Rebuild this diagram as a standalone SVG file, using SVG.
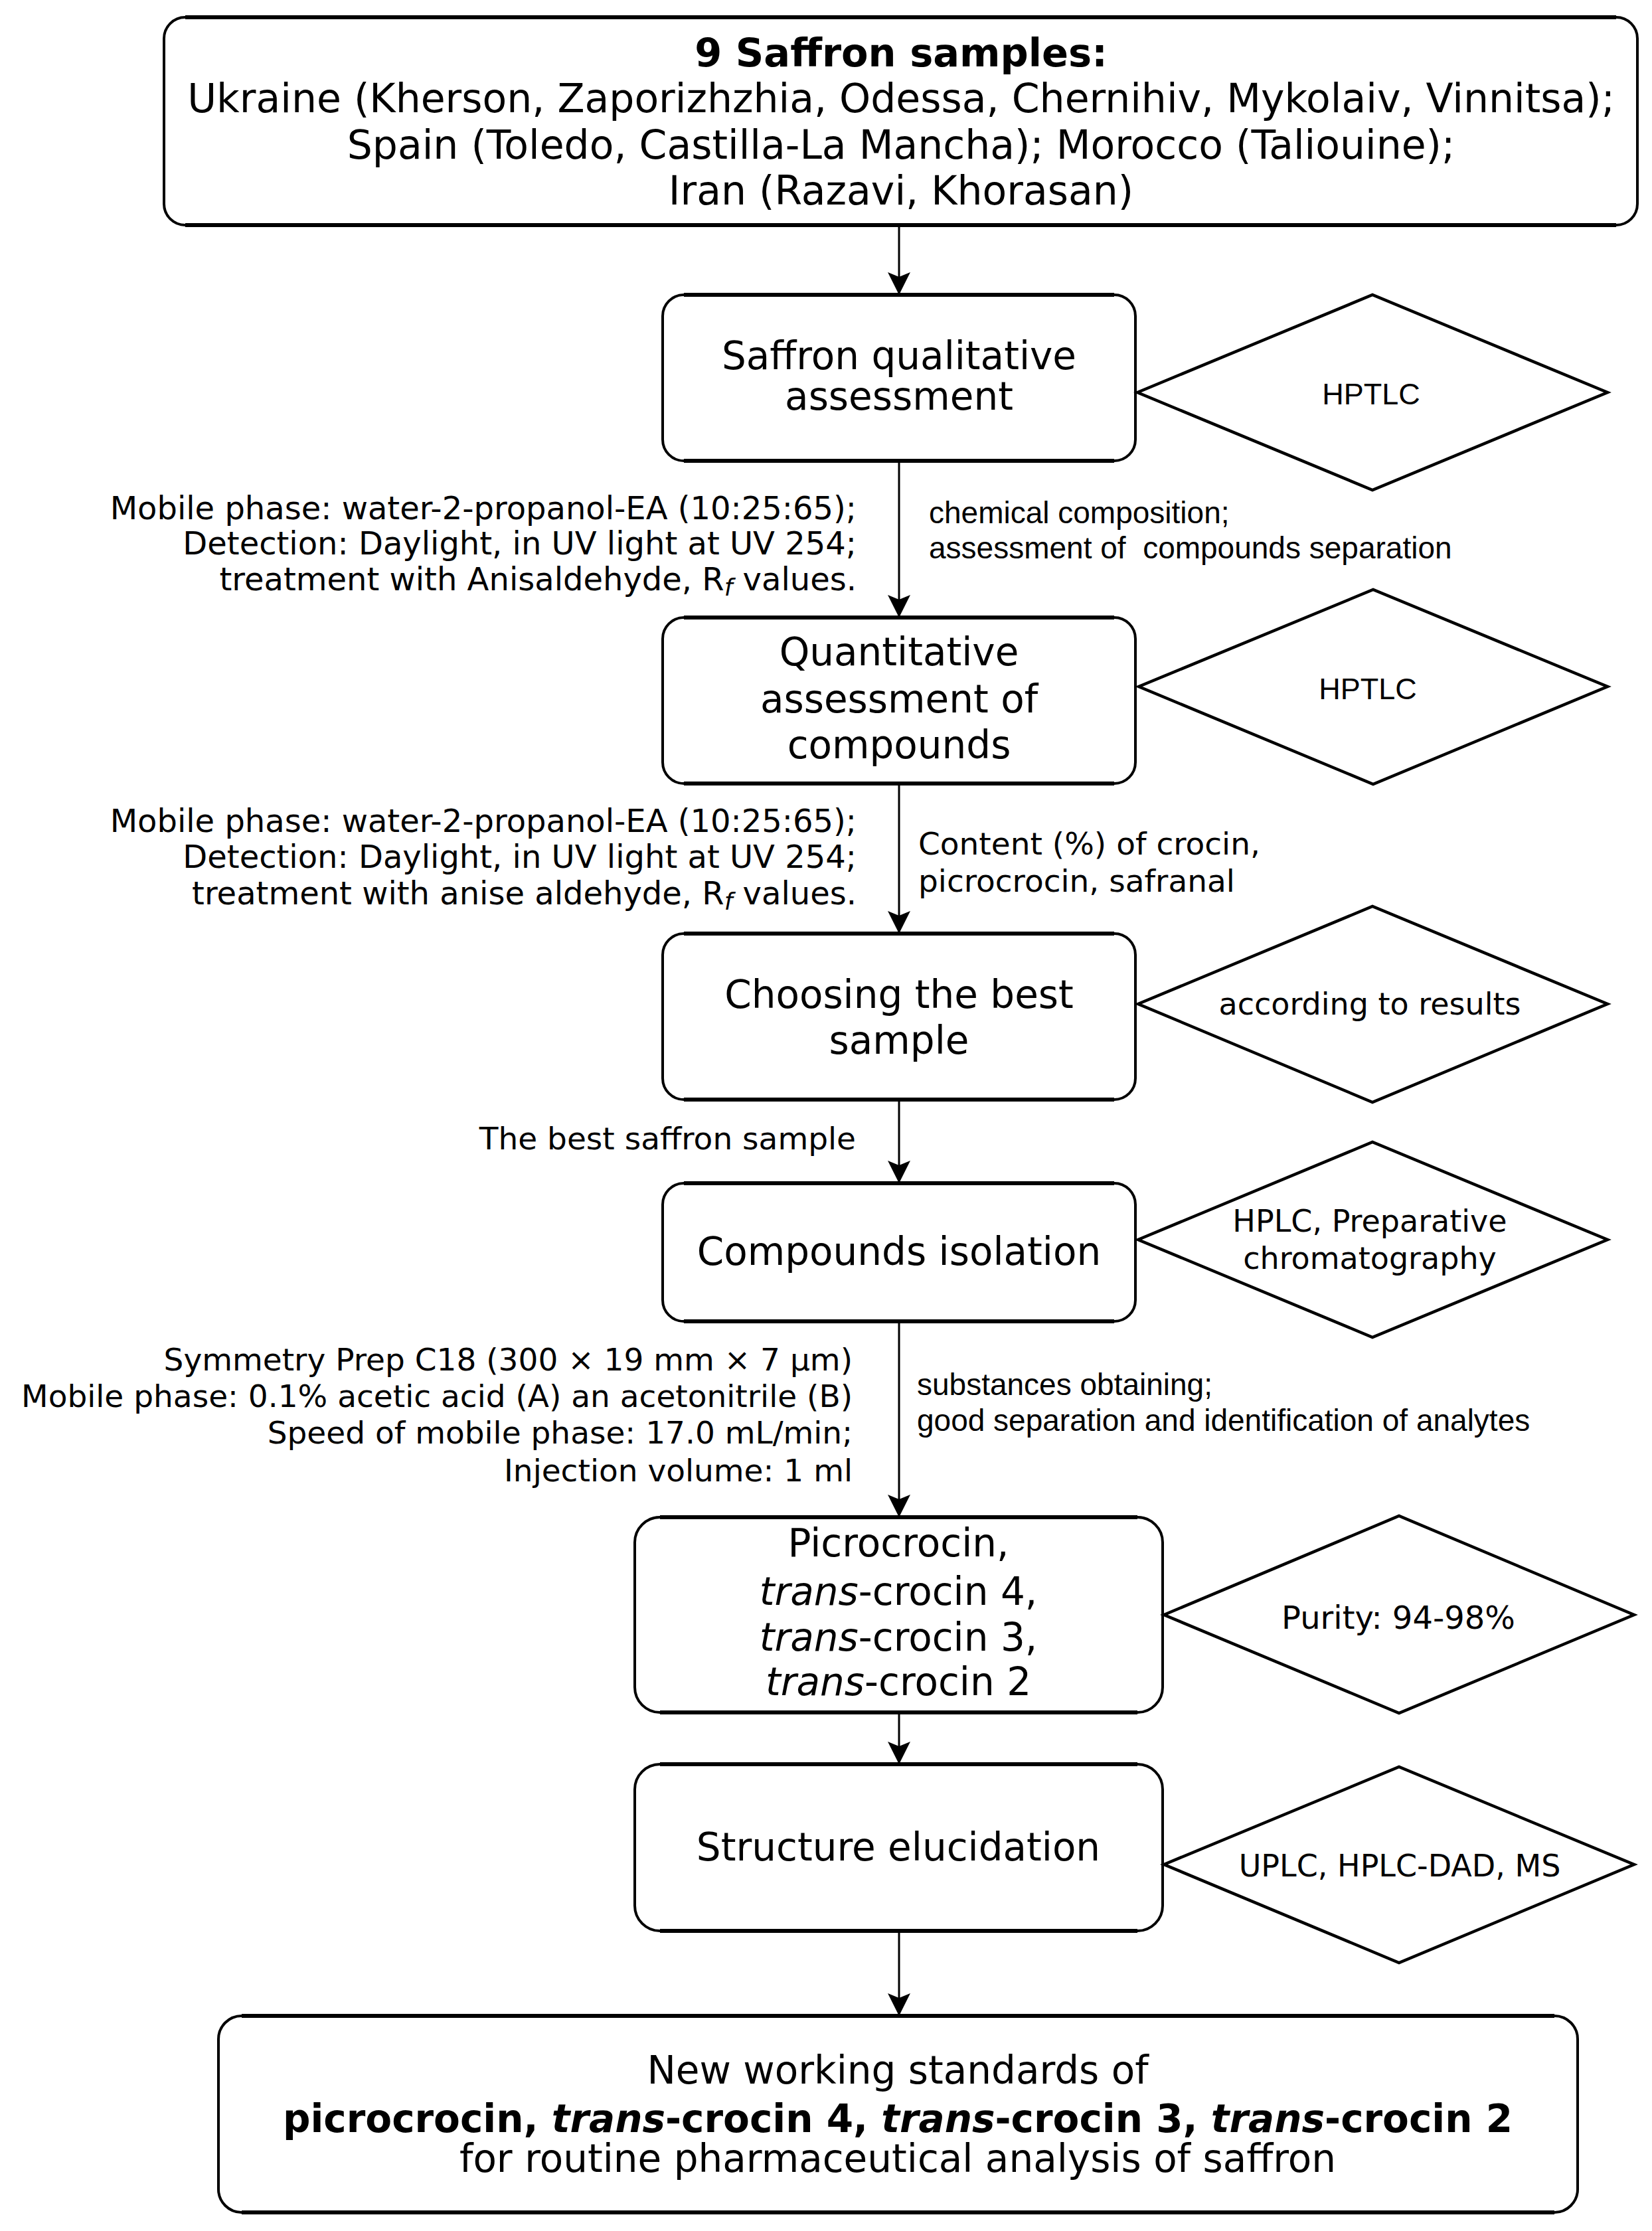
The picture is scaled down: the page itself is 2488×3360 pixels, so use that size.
<svg xmlns="http://www.w3.org/2000/svg" width="2488" height="3360" viewBox="0 0 2488 3360">
<defs>
<style>
.box{fill:#fff;stroke:#000;stroke-width:4}
.edge{fill:none;stroke:#000;stroke-width:6}
.dia{fill:#fff;stroke:#000;stroke-width:4.5;stroke-linejoin:miter}
.t{font-family:"DejaVu Sans",Verdana,sans-serif;font-size:58px;fill:#000;text-anchor:middle}
.top{font-size:60px}
.ttl{font-size:59px}
.b{font-weight:bold}
.i{font-style:italic}
.ann{font-family:"DejaVu Sans",Verdana,sans-serif;font-size:47px;fill:#000}
.ann48{font-size:48px}
.end{text-anchor:end}
.annA{font-family:"Liberation Sans",Arial,sans-serif;font-size:46px;fill:#000}
.dt{font-family:"DejaVu Sans",Verdana,sans-serif;font-size:46px;fill:#000;text-anchor:middle}
.dtA{font-family:"Liberation Sans",Arial,sans-serif;font-size:45px;fill:#000;text-anchor:middle}
.sub{font-style:italic;font-size:36px}
.conn{stroke:#000;stroke-width:3;fill:none;marker-end:url(#arr)}
</style>
<marker id="arr" markerUnits="userSpaceOnUse" markerWidth="36" markerHeight="34" refX="34" refY="17" orient="auto" viewBox="0 0 36 34">
<path d="M0,0 L34,17 L0,34 L7,17 Z" fill="#000"/>
</marker>
</defs>
<rect width="2488" height="3360" fill="#fff"/>

<g id="connectors">
<line class="conn" x1="1354" y1="339" x2="1354" y2="444"/>
<line class="conn" x1="1354" y1="694" x2="1354" y2="930"/>
<line class="conn" x1="1354" y1="1180" x2="1354" y2="1406"/>
<line class="conn" x1="1354" y1="1656" x2="1354" y2="1782"/>
<line class="conn" x1="1354" y1="1990" x2="1354" y2="2285"/>
<line class="conn" x1="1354" y1="2579" x2="1354" y2="2657"/>
<line class="conn" x1="1354" y1="2908" x2="1354" y2="3036"/>
</g>

<g id="n1">
<rect class="box" x="247" y="26" width="2219" height="313" rx="32"/>
<path class="edge" d="M279,26 H2434 M279,339 H2434"/>
<text class="t ttl b" x="1357" y="100">9 Saffron samples:</text>
<text class="t top" x="1357" y="169">Ukraine (Kherson, Zaporizhzhia, Odessa, Chernihiv, Mykolaiv, Vinnitsa);</text>
<text class="t top" x="1357" y="239">Spain (Toledo, Castilla-La Mancha); Morocco (Taliouine);</text>
<text class="t top" x="1357" y="308">Iran (Razavi, Khorasan)</text>
</g>

<g id="n2">
<rect class="box" x="998" y="444" width="712" height="250" rx="32"/>
<path class="edge" d="M1030,444 H1678 M1030,694 H1678"/>
<text class="t" x="1354" y="556">Saffron qualitative</text>
<text class="t" x="1354" y="617">assessment</text>
</g>

<g id="d1">
<polygon class="dia" points="1713,591 2067,444 2421,591 2067,738"/>
<text class="dtA" x="2065" y="609">HPTLC</text>
</g>

<g id="a1">
<text class="ann ann48 end" x="1290" y="782">Mobile phase: water-2-propanol-EA (10:25:65);</text>
<text class="ann ann48 end" x="1290" y="835">Detection: Daylight, in UV light at UV 254;</text>
<text class="ann ann48 end" x="1290" y="889">treatment with Anisaldehyde, R<tspan class="sub" dy="8">f</tspan><tspan dy="-8"> values.</tspan></text>
<text class="annA" x="1399" y="788">chemical composition;</text>
<text class="annA" x="1399" y="841" xml:space="preserve">assessment of  compounds separation</text>
</g>

<g id="n3">
<rect class="box" x="998" y="930" width="712" height="250" rx="32"/>
<path class="edge" d="M1030,930 H1678 M1030,1180 H1678"/>
<text class="t" x="1354" y="1002">Quantitative</text>
<text class="t" x="1354" y="1073">assessment of</text>
<text class="t" x="1354" y="1142">compounds</text>
</g>

<g id="d2">
<polygon class="dia" points="1715,1034 2068,888 2421,1034 2068,1181"/>
<text class="dtA" x="2060" y="1053">HPTLC</text>
</g>

<g id="a2">
<text class="ann ann48 end" x="1290" y="1253">Mobile phase: water-2-propanol-EA (10:25:65);</text>
<text class="ann ann48 end" x="1290" y="1307">Detection: Daylight, in UV light at UV 254;</text>
<text class="ann ann48 end" x="1290" y="1362">treatment with anise aldehyde, R<tspan class="sub" dy="8">f</tspan><tspan dy="-8"> values.</tspan></text>
<text class="ann" x="1383" y="1287">Content (%) of crocin,</text>
<text class="ann" x="1383" y="1343">picrocrocin, safranal</text>
</g>

<g id="n4">
<rect class="box" x="998" y="1406" width="712" height="250" rx="32"/>
<path class="edge" d="M1030,1406 H1678 M1030,1656 H1678"/>
<text class="t" x="1354" y="1518">Choosing the best</text>
<text class="t" x="1354" y="1587">sample</text>
</g>

<g id="d3">
<polygon class="dia" points="1714,1512 2067,1365 2421,1512 2067,1660"/>
<text class="dt" x="2063" y="1528">according to results</text>
</g>

<g id="a3">
<text class="ann end" x="1289" y="1731">The best saffron sample</text>
</g>

<g id="n5">
<rect class="box" x="998" y="1782" width="712" height="208" rx="32"/>
<path class="edge" d="M1030,1782 H1678 M1030,1990 H1678"/>
<text class="t" x="1354" y="1905">Compounds isolation</text>
</g>

<g id="d4">
<polygon class="dia" points="1714,1867 2067,1720 2421,1867 2067,2014"/>
<text class="dt" x="2063" y="1855">HPLC, Preparative</text>
<text class="dt" x="2063" y="1911">chromatography</text>
</g>

<g id="a4">
<text class="ann end" x="1284" y="2064">Symmetry Prep C18 (300 × 19 mm × 7 µm)</text>
<text class="ann end" x="1284" y="2119">Mobile phase: 0.1% acetic acid (A) an acetonitrile (B)</text>
<text class="ann end" x="1284" y="2174">Speed of mobile phase: 17.0 mL/min;</text>
<text class="ann end" x="1284" y="2231">Injection volume: 1 ml</text>
<text class="annA" x="1381" y="2101">substances obtaining;</text>
<text class="annA" x="1381" y="2155">good separation and identification of analytes</text>
</g>

<g id="n6">
<rect class="box" x="956" y="2285" width="795" height="294" rx="38"/>
<path class="edge" d="M994,2285 H1713 M994,2579 H1713"/>
<text class="t" x="1353" y="2344">Picrocrocin,</text>
<text class="t" x="1353" y="2417"><tspan class="i">trans</tspan>-crocin 4,</text>
<text class="t" x="1353" y="2486"><tspan class="i">trans</tspan>-crocin 3,</text>
<text class="t" x="1353" y="2553"><tspan class="i">trans</tspan>-crocin 2</text>
</g>

<g id="d5">
<polygon class="dia" points="1753,2432 2107,2283 2461,2432 2107,2580"/>
<text class="dt" x="2106" y="2453" style="font-size:48px">Purity: 94-98%</text>
</g>

<g id="n7">
<rect class="box" x="956" y="2657" width="795" height="251" rx="38"/>
<path class="edge" d="M994,2657 H1713 M994,2908 H1713"/>
<text class="t" x="1353" y="2802">Structure elucidation</text>
</g>

<g id="d6">
<polygon class="dia" points="1753,2808 2107,2661 2461,2808 2107,2956"/>
<text class="dt" x="2108" y="2826">UPLC, HPLC-DAD, MS</text>
</g>

<g id="n8">
<rect class="box" x="329" y="3036" width="2047" height="296" rx="35"/>
<path class="edge" d="M364,3036 H2341 M364,3332 H2341"/>
<text class="t" x="1352" y="3138">New working standards of</text>
<text class="t b" x="1352" y="3211">picrocrocin, <tspan class="i">trans</tspan>-crocin 4, <tspan class="i">trans</tspan>-crocin 3, <tspan class="i">trans</tspan>-crocin 2</text>
<text class="t" x="1352" y="3271">for routine pharmaceutical analysis of saffron</text>
</g>
</svg>
